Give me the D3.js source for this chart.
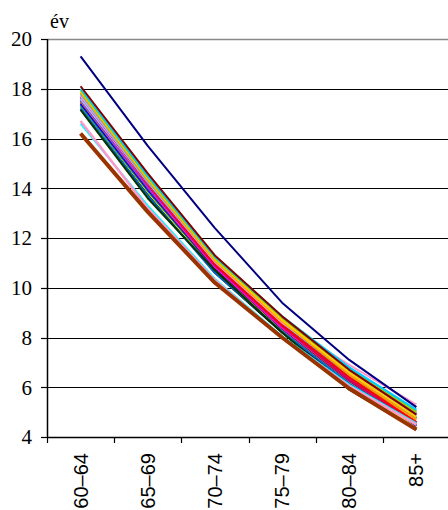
<!DOCTYPE html>
<html>
<head>
<meta charset="utf-8">
<script src="https://cdn.jsdelivr.net/npm/d3@7"></script>
<style>
  html, body { margin: 0; padding: 0; background: #fff; }
  svg { display: block; }
  .serif { font-family: "Liberation Serif", "Times New Roman", Times, "DejaVu Serif", serif; }
  .sans { font-family: "Liberation Sans", Arial, Helvetica, sans-serif; }
</style>
</head>
<body>
<script>
// ---- data ----
const categories = ["60–64", "65–69", "70–74", "75–79", "80–84", "85+"];
const yTicks = [4, 6, 8, 10, 12, 14, 16, 18, 20];
const unitLabel = "év";

const seriesNames = [
  "S01","S02","S03","S04","S05","S06","S07","S08","S09","S10",
  "S11","S12","S13","S14","S15","S16","S17","S18","S19","S20",
  "S21","S22","S23","S24","S25","S26","S27","S28"
];
const seriesValues = [
  [17.30, 13.80, 10.65, 8.30, 6.20, 4.60],
  [17.20, 13.75, 10.60, 8.20, 6.10, 4.50],
  [17.30, 13.85, 10.70, 8.30, 6.20, 4.40],
  [17.35, 13.90, 10.75, 8.40, 6.40, 4.75],
  [17.30, 13.90, 10.80, 8.45, 6.55, 4.95],
  [17.45, 14.00, 10.85, 8.55, 6.60, 4.90],
  [17.40, 13.95, 10.80, 8.40, 6.30, 4.45],
  [17.50, 14.00, 10.80, 8.35, 6.25, 4.50],
  [17.50, 14.05, 10.85, 8.40, 6.30, 4.50],
  [17.55, 14.05, 10.90, 8.50, 6.50, 4.80],
  [17.60, 14.10, 10.85, 8.40, 6.35, 4.60],
  [17.65, 14.15, 10.90, 8.45, 6.30, 4.55],
  [17.60, 14.20, 11.00, 8.60, 6.55, 4.85],
  [17.70, 14.20, 10.95, 8.50, 6.40, 4.60],
  [17.70, 14.25, 11.05, 8.65, 6.60, 4.95],
  [17.75, 14.30, 11.05, 8.60, 6.90, 5.30],
  [17.80, 14.30, 11.10, 8.70, 6.75, 5.05],
  [17.85, 14.35, 11.10, 8.65, 6.50, 4.70],
  [17.90, 14.40, 11.15, 8.70, 6.60, 4.80],
  [17.95, 14.45, 11.20, 8.80, 6.70, 5.00],
  [18.00, 14.50, 11.25, 8.85, 6.80, 5.10],
  [18.10, 14.60, 11.30, 8.85, 6.70, 4.90],
  [17.20, 13.70, 10.60, 8.25, 6.15, 4.50],
  [17.15, 13.60, 10.70, 8.20, 5.90, 4.30],
  [16.60, 13.30, 10.35, 8.05, 6.10, 4.55],
  [16.70, 13.20, 10.30, 8.00, 6.05, 4.50],
  [16.20, 13.05, 10.20, 8.00, 5.95, 4.30],
  [19.30, 15.70, 12.40, 9.40, 7.10, 5.20]
];
const seriesColors = [
  "#808080","#000000","#FFFF00","#008080","#339966","#666699","#0000FF","#800080",
  "#FF6600","#3366FF","#FF00FF","#CC0066","#99CCFF","#FF0000","#CC99FF","#FF99CC",
  "#33CCCC","#FF9900","#FFCC00","#99CC00","#00CCFF","#800000","#0066CC","#003300",
  "#00FFFF","#FF99CC","#993300","#000080"
];
const seriesWidths = [
  2,2,2,2,2,2,2,2,2,2,2,2,2,2,2,2,2,2,2,2,2,2,2,2,2,2.5,4,2
];

// ---- layout ----
const W = 448, H = 510;
const mLeft = 47, mRight = 450, mTop = 39, mBottom = 437;

const svg = d3.select("body").append("svg")
  .attr("width", W).attr("height", H);
svg.append("rect").attr("width", W).attr("height", H).attr("fill", "#fff");

const x = d3.scaleBand().domain(categories).range([mLeft, mRight]).padding(0);
const y = d3.scaleLinear().domain([4, 20]).range([mBottom, mTop]);
const cx = c => x(c) + x.bandwidth() / 2;

// gridlines
svg.append("g").selectAll("line")
  .data(yTicks.filter(t => t > 4))
  .join("line")
  .attr("x1", mLeft).attr("x2", W)
  .attr("y1", d => Math.round(y(d)) + 0.5)
  .attr("y2", d => Math.round(y(d)) + 0.5)
  .attr("stroke", d => d === 20 ? "#888" : "#000")
  .attr("stroke-width", d => d === 20 ? 1.5 : 1.2);

// y axis
const yAxis = svg.append("g");
yAxis.append("line")
  .attr("x1", mLeft + 0.5).attr("x2", mLeft + 0.5)
  .attr("y1", Math.round(y(20))).attr("y2", Math.round(y(4)) + 1)
  .attr("stroke", "#000").attr("stroke-width", 1.5);
yAxis.selectAll("line.tick")
  .data(yTicks).join("line").attr("class", "tick")
  .attr("x1", mLeft - 6).attr("x2", mLeft)
  .attr("y1", d => Math.round(y(d)) + 0.5)
  .attr("y2", d => Math.round(y(d)) + 0.5)
  .attr("stroke", "#000").attr("stroke-width", 1.2);
yAxis.selectAll("text")
  .data(yTicks).join("text")
  .attr("class", "serif")
  .attr("x", 32).attr("y", d => y(d))
  .attr("dy", "0.35em")
  .attr("text-anchor", "end")
  .style("font-size", "21px")
  .attr("fill", "#000")
  .text(d => d);

// unit label
svg.append("text")
  .attr("class", "serif")
  .attr("x", 50).attr("y", 28)
  .style("font-size", "20px")
  .attr("fill", "#000")
  .text(unitLabel);

// x axis
const xAxis = svg.append("g");
xAxis.append("line")
  .attr("x1", mLeft).attr("x2", W)
  .attr("y1", Math.round(y(4)) + 0.5).attr("y2", Math.round(y(4)) + 0.5)
  .attr("stroke", "#000").attr("stroke-width", 1.5);
const boundaries = categories.map(c => x(c)).concat([x.range()[1]]);
xAxis.selectAll("line.tick")
  .data(boundaries).join("line").attr("class", "tick")
  .attr("x1", d => Math.round(d) + 0.5).attr("x2", d => Math.round(d) + 0.5)
  .attr("y1", Math.round(y(4))).attr("y2", Math.round(y(4)) + 6)
  .attr("stroke", "#000").attr("stroke-width", 1.2);
xAxis.selectAll("text")
  .data(categories).join("text")
  .attr("class", "sans")
  .attr("transform", d => `translate(${cx(d)},453) rotate(-90)`)
  .attr("dy", "0.35em")
  .attr("text-anchor", "end")
  .style("font-size", "20px")
  .attr("fill", "#000")
  .text(d => d);

// lines
const line = d3.line()
  .x((d, i) => cx(categories[i]))
  .y(d => y(d));

svg.append("g").selectAll("path")
  .data(seriesValues.map((v, i) => ({ name: seriesNames[i], values: v, color: seriesColors[i], w: seriesWidths[i] })))
  .join("path")
  .attr("d", d => line(d.values))
  .attr("fill", "none")
  .attr("stroke", d => d.color)
  .attr("stroke-width", d => d.w)
  .attr("stroke-linejoin", "round");
</script>
</body>
</html>
